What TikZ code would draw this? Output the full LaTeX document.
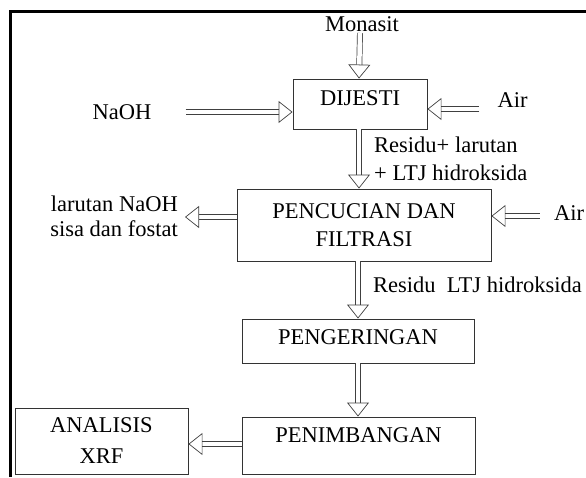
\documentclass[tikz,border=0pt]{standalone}
\usepackage{fontspec}
\setmainfont{Liberation Serif}
\usetikzlibrary{arrows.meta,calc}

\tikzset{
  stepbox/.style={draw=black!80, line width=0.9pt, inner sep=0pt, align=center},
  flow/.style={draw=black!75, line width=0.7pt, double, double distance=4.5pt,
    -{Triangle[open, length=14pt, width=22pt, line width=0.7pt]}},
  lbl/.style={inner sep=0pt}
}

\begin{document}
\begin{tikzpicture}[x=1pt, y=-1pt, font=\rmfamily\fontsize{22.5}{28}\selectfont]
\useasboundingbox (0,0) rectangle (586,477);
% frame
\draw[line width=3pt] (10.5,477) -- (10.5,11.5) -- (586,11.5);

% process boxes
\node[stepbox, minimum width=134, minimum height=50, text depth=11pt] (dijesti) at (360,104) {DIJESTI};
\node[stepbox, minimum width=254, minimum height=72] (pencucian) at (364,225) {PENCUCIAN DAN\\FILTRASI};
\node[stepbox, minimum width=232, minimum height=44, text depth=8pt] (pengeringan) at (358,341) {PENGERINGAN};
\node[stepbox, minimum width=233, minimum height=57, text depth=21pt] (penimbangan) at (358.5,445.5) {PENIMBANGAN};
\node[stepbox, minimum width=173, minimum height=66, font=\rmfamily\fontsize{22.5}{31}\selectfont] (analisis) at (101.5,441) {ANALISIS\\XRF};

% inputs and outputs
\node[lbl] (monasit) at (362,24) {Monasit};
\node[lbl] (naoh) at (122,112) {NaOH};
\node[lbl] (airA) at (512.5,100) {Air};
\node[lbl] (airB) at (569,213) {Air};
\node[lbl, anchor=east, align=right, font=\rmfamily\fontsize{22.5}{25}\selectfont] (sisa) at (178,216) {larutan NaOH\\sisa dan fostat};
\node[lbl, anchor=west, align=left] (residuA) at (374,159) {Residu+ larutan\\+ LTJ hidroksida};
\node[lbl, anchor=west] (residuB) at (373,285) {Residu~ LTJ hidroksida};

% arrows
\draw[flow] (dijesti.north |- 0,33) -- ([xshift=-1pt]dijesti.north);
\draw[flow] ([xshift=34pt]naoh.east |- 0,112) -- (dijesti.west |- 0,112);
\draw[flow] ([xshift=-18pt]airA.west |- 0,109) -- (dijesti.east |- 0,109);
\draw[flow] ([xshift=-14pt]airB.west |- 0,216) -- (pencucian.east |- 0,216);
\draw[flow] ([xshift=-1pt]dijesti.south) -- ([xshift=-1pt]dijesti.south |- pencucian.north);
\draw[flow] (pencucian.west |- 0,217) -- ([xshift=7pt]sisa.east |- 0,217);
\draw[flow] (pencucian.south -| pengeringan.north) -- (pengeringan.north);
\draw[flow] (pengeringan.south) -- (penimbangan.north -| pengeringan.south);
\draw[flow] (penimbangan.west |- 0,444) -- (analisis.east |- 0,444);
\end{tikzpicture}
\end{document}
